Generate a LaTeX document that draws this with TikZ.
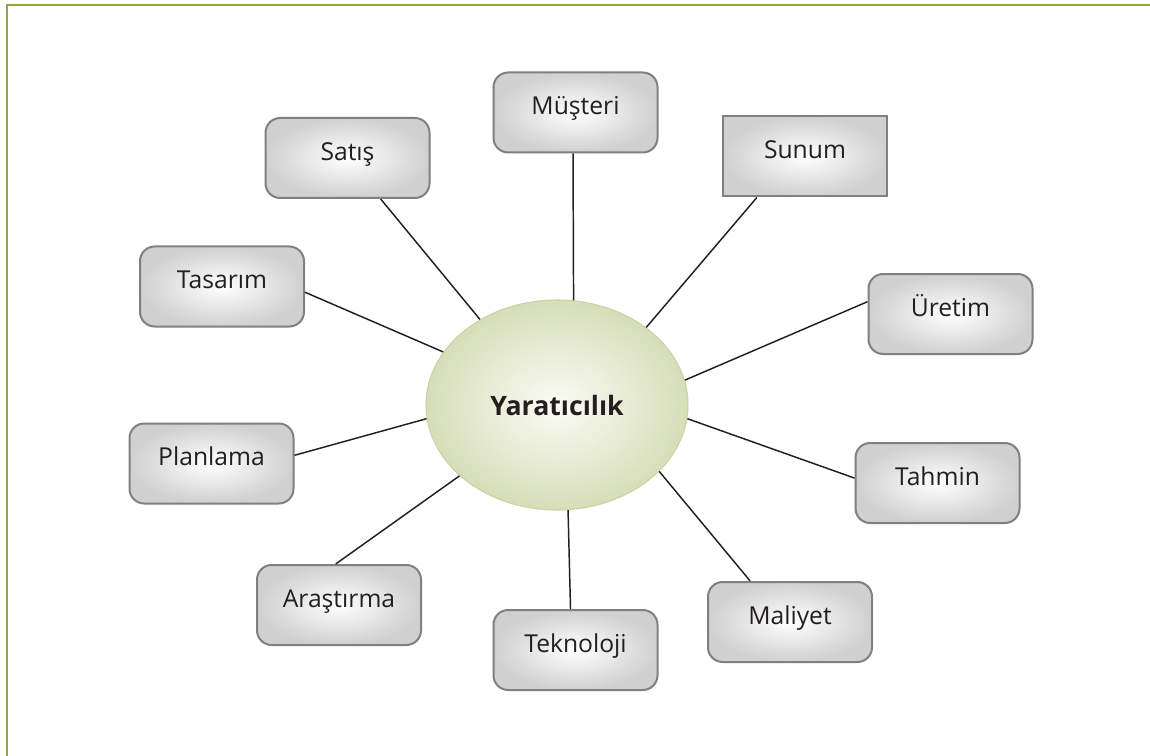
\documentclass[tikz,border=0pt]{standalone}
\usepackage{fontspec}
\setmainfont{Open Sans}
\usetikzlibrary{calc,shapes.geometric}

\definecolor{frameolive}{HTML}{94A545}
\definecolor{boxedge}{HTML}{808080}
\definecolor{boxouter}{HTML}{D0D0D0}
\definecolor{ovalouter}{HTML}{D6DEB8}
\definecolor{ovaledge}{HTML}{C9D3A3}
\definecolor{ovalinner}{HTML}{FBFCF6}
\definecolor{inkdark}{HTML}{231F20}

\tikzset{
  topic/.style={draw=boxedge, line width=1.5pt, rounded corners=11pt,
    inner color=white, outer color=boxouter,
    minimum width=123pt, minimum height=60pt, inner sep=0pt,
    font=\fontsize{18.5}{22}\selectfont, text height=0.72em, text depth=0.35em,
    text=inkdark},
  squaretopic/.style={topic, sharp corners},
  hub/.style={ellipse, draw=ovaledge, line width=0.8pt,
    inner color=ovalinner, outer color=ovalouter,
    minimum width=196.5pt, minimum height=157.5pt, inner sep=0pt,
    font=\bfseries\fontsize{20}{24}\selectfont, text=inkdark},
  link/.style={line width=1.1pt, draw=inkdark},
  frame/.style={line width=1.7pt, draw=frameolive},
}

\begin{document}
\begin{tikzpicture}[x=0.75pt, y=-0.75pt]
  \useasboundingbox (0,0) rectangle (1150,756);

  % page frame: left and top rules
  \coordinate (fbl) at (7,756);
  \coordinate (ftl) at (7,5);
  \coordinate (ftr) at (1150,5);
  \draw[frame] (fbl) -- (ftl) -- (ftr);

  % central idea
  \node[hub] (hub) at (557,405) {Yaratıcılık};

  % surrounding topics
  \node[topic]       (sat) at (347.5,158)   {Satış};
  \node[topic]       (mus) at (575.5,112.5) {Müşteri};
  \node[squaretopic] (sun) at (805,156.5)   {Sunum};
  \node[topic]       (ure) at (950.5,314)   {Üretim};
  \node[topic]       (tah) at (937.5,483)   {Tahmin};
  \node[topic]       (mal) at (790,622)     {Maliyet};
  \node[topic]       (tek) at (575.5,650)   {Teknoloji};
  \node[topic]       (ara) at (339,605)     {Araştırma};
  \node[topic]       (pla) at (211.5,463.5) {Planlama};
  \node[topic]       (tas) at (222,286.5)   {Tasarım};

  % spokes
  \draw[link] ($(sat.south west)!0.70!(sat.south east)$) -- (hub.132);
  \draw[link] ($(mus.south west)!0.485!(mus.south east)$) -- (hub.81);
  \draw[link] ($(sun.south west)!0.21!(sun.south east)$) -- (hub.41);
  \draw[link] ($(ure.north west)!0.35!(ure.south west)$) -- (hub.11);
  \draw[link] ($(tah.north west)!0.44!(tah.south west)$) -- (hub.-6);
  \draw[link] ($(mal.north west)!0.26!(mal.north east)$) -- (hub.-33);
  \draw[link] ($(tek.north west)!0.47!(tek.north east)$) -- (hub.-84);
  \draw[link] ($(ara.north west)!0.48!(ara.north east)$) -- (hub.-144);
  \draw[link] ($(pla.north east)!0.40!(pla.south east)$) -- (hub.-174);
  \draw[link] ($(tas.north east)!0.57!(tas.south east)$) -- (hub.155);
\end{tikzpicture}
\end{document}
